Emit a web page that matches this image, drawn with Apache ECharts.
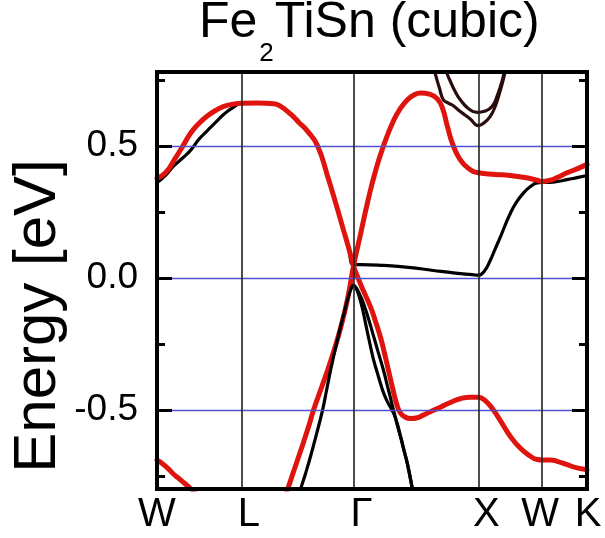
<!DOCTYPE html>
<html>
<head>
<meta charset="utf-8">
<script src="https://cdn.jsdelivr.net/npm/echarts@6/dist/echarts.min.js"></script>
<style>
html,body{margin:0;padding:0;background:#fff;}
#chart{width:605px;height:538px;}
</style>
</head>
<body>
<div id="chart"></div>
<script>
// High-symmetry points along the k-path (k-distance units)
const kPoints = [0, 85, 197, 322, 386, 431];
const kLabels = ['W', 'L', 'Γ', 'X', 'W', 'K'];
const yMajorTicks = [-0.5, 0, 0.5];
const yMinorTicks = [-0.75, -0.25, 0.25, 0.75];
const refLines = [-0.5, 0, 0.5];

// Bands: [k, energy (eV)]
const redA = [[0,0.377],[9,0.40],[17,0.445],[26,0.50],[34,0.55],[42,0.585],[51,0.615],[59,0.635],[67,0.65],[76,0.658],
  [85,0.662],[101,0.663],[117,0.66],[124,0.65],[134,0.62],[142,0.59],[151,0.555],[161,0.5],
  [171,0.385],[179,0.285],[187,0.18],[192,0.115],[197,0.045],[202,-0.005],[207,-0.05],[214,-0.11],[219,-0.165],[224,-0.225],
  [228,-0.285],[232,-0.35],[236,-0.415],[240,-0.475],[244,-0.512],[249,-0.528],[254,-0.533],[261,-0.53],[267,-0.52],[274,-0.507],
  [284,-0.49],[294,-0.472],[304,-0.458],[314,-0.452],[322,-0.452],[329,-0.465],[337,-0.5],[344,-0.54],[354,-0.6],[364,-0.645],
  [374,-0.675],[381,-0.688],[387,-0.69],[394,-0.69],[401,-0.695],[411,-0.708],[421,-0.72],[431,-0.727]];
const redB = [[127,-0.84],[131,-0.8],[137,-0.733],[144,-0.655],[151,-0.575],[157,-0.5],[164,-0.425],[171,-0.35],[177,-0.28],
  [184,-0.19],[191,-0.08],[197,0.045],[204,0.165],[211,0.285],[219,0.405],[227,0.5],[237,0.595],[244,0.642],
  [251,0.675],[257,0.692],[264,0.70],[274,0.695],[281,0.678],[286,0.645],[291,0.575],[297,0.5],[304,0.447],[312,0.415],
  [322,0.398],[339,0.392],[354,0.388],[369,0.38],[381,0.37],[386,0.365],[394,0.37],[401,0.38],[411,0.398],[421,0.413],[431,0.43]];
const redC = [[0,-0.69],[9,-0.715],[17,-0.745],[25,-0.77],[34,-0.8],[44,-0.84]];
const blackA = [[0,0.36],[9,0.39],[17,0.425],[26,0.455],[34,0.485],[42,0.525],[51,0.56],[59,0.59],[67,0.62],[76,0.645],
  [85,0.662],[101,0.663],[117,0.66],[124,0.65],[134,0.62],[142,0.59],[151,0.555],[161,0.5],
  [171,0.385],[179,0.285],[187,0.18],[192,0.115],[197,0.05],[204,0.05],[227,0.047],[252,0.04],[277,0.028],[299,0.018],
  [316,0.012],[322,0.01],[328,0.025],[334,0.066],[339,0.11],[344,0.153],[349,0.2],[354,0.243],[360,0.285],[367,0.32],
  [374,0.345],[381,0.36],[386,0.362],[394,0.362],[401,0.365],[411,0.372],[421,0.38],[431,0.388]];
const blackV1 = [[138,-0.88],[144,-0.8],[149,-0.74],[154,-0.675],[160,-0.59],[166,-0.5],[170,-0.425],[174,-0.35],[179,-0.265],
  [184,-0.185],[188,-0.125],[192,-0.07],[195,-0.038],[197,-0.028],[199,-0.035],[201,-0.052],[204,-0.088],[207,-0.135],
  [210,-0.19],[214,-0.26],[217,-0.31],[221,-0.362],[224,-0.4],[227,-0.435],[231,-0.47],[234,-0.49],[239,-0.53],[244,-0.6],
  [248,-0.66],[251,-0.705],[256,-0.8],[259,-0.86]];
const blackV2 = [[197,-0.028],[200,-0.04],[204,-0.07],[207,-0.097],[212,-0.155],[217,-0.22],[222,-0.285],[227,-0.35],
  [231,-0.41],[234,-0.455],[237,-0.5],[241,-0.56],[244,-0.6],[248,-0.66],[251,-0.705],[256,-0.8],[259,-0.86]];
const blackC1 = [[276,0.81],[279,0.772],[283,0.72],[287,0.675],[292,0.662],[297,0.652],[304,0.63],[314,0.602],[322,0.577],
  [328,0.588],[334,0.612],[339,0.65],[344,0.709],[347,0.75],[350,0.8]];
const blackC2 = [[287,0.83],[291,0.772],[294,0.745],[299,0.705],[304,0.675],[312,0.642],[321,0.627],[329,0.632],[336,0.65],
  [341,0.69],[346,0.747],[349,0.8]];

const FONT = '"Liberation Sans", Arial, sans-serif';
const KMIN = 0, KMAX = 431;
const YMIN = -0.8, YMAX = 0.78;

const ctx = document.createElement('canvas').getContext('2d');
function tw(t, size) { ctx.font = size + 'px ' + FONT; return ctx.measureText(t).width; }

const RED = '#e0140e', BLK = '#000000', DARK = '#2a0c0c';
function band(data, color, width) {
  return { type: 'line', data: data, showSymbol: false, symbol: 'none', smooth: 0.5,
    lineStyle: { color: color, width: width, cap: 'round', join: 'round' }, xAxisIndex: 0, yAxisIndex: 0, silent: true, clip: true };
}

const labelOffsets = [0, 7, 8, 8, -2, 1];
const rich = {};
kLabels.forEach((l, i) => {
  const o = labelOffsets[i];
  rich['p' + i] = { fontSize: 40, fontFamily: FONT, color: '#000',
    padding: [0, o < 0 ? -2 * o : 0, 0, o > 0 ? 2 * o : 0] };
});

const titleSize = 50, subSize = 26;
const tx0 = 199;
const feW = tw('Fe', titleSize);
const subW = tw('2', subSize);

const chart = echarts.init(document.getElementById('chart'), null, { renderer: 'canvas' });
const yBase = { type: 'value', min: YMIN, max: YMAX, splitLine: { show: false }, z: 10 };
chart.setOption({
  animation: false,
  backgroundColor: '#fff',
  grid: { left: 157, right: 18, top: 72, bottom: 49, containLabel: false },
  xAxis: [
    { type: 'value', min: KMIN, max: KMAX, position: 'bottom', z: 10,
      axisLine: { show: true, onZero: false, lineStyle: { color: '#000', width: 4 } },
      axisTick: { show: false }, splitLine: { show: false },
      axisLabel: { show: true, customValues: kPoints, margin: 6, fontSize: 40, fontFamily: FONT, color: '#000',
        formatter: function (v) { const i = kPoints.indexOf(v); return i < 0 ? '' : '{p' + i + '|' + kLabels[i] + '}'; },
        rich: rich } },
    { type: 'value', min: KMIN, max: KMAX, position: 'top', z: 10,
      axisLine: { show: true, onZero: false, lineStyle: { color: '#000', width: 4 } },
      axisTick: { show: false }, splitLine: { show: false }, axisLabel: { show: false } }
  ],
  yAxis: [
    Object.assign({}, yBase, { position: 'left',
      axisLine: { show: true, onZero: false, lineStyle: { color: '#000', width: 4 } },
      axisTick: { show: true, inside: true, length: 15, customValues: yMajorTicks, lineStyle: { color: '#000', width: 3 } },
      axisLabel: { show: true, customValues: yMajorTicks, margin: 19, fontSize: 37, fontFamily: FONT, color: '#000',
        formatter: v => v.toFixed(1) } }),
    Object.assign({}, yBase, { position: 'left',
      axisLine: { show: false, onZero: false },
      axisTick: { show: true, inside: true, length: 8, customValues: yMinorTicks, lineStyle: { color: '#000', width: 3 } },
      axisLabel: { show: false } }),
    Object.assign({}, yBase, { position: 'right',
      axisLine: { show: true, onZero: false, lineStyle: { color: '#000', width: 4 } },
      axisTick: { show: true, inside: true, length: 15, customValues: yMajorTicks, lineStyle: { color: '#000', width: 3 } },
      axisLabel: { show: false } }),
    Object.assign({}, yBase, { position: 'right',
      axisLine: { show: false, onZero: false },
      axisTick: { show: true, inside: true, length: 8, customValues: yMinorTicks, lineStyle: { color: '#000', width: 3 } },
      axisLabel: { show: false } })
  ],
  series: [
    { type: 'line', data: [], silent: true, z: 1,
      markLine: { silent: true, symbol: 'none', label: { show: false },
        data: refLines.map(v => ({ yAxis: v, lineStyle: { color: '#5050d0', width: 1.3, type: 'solid' } }))
          .concat(kPoints.slice(1, 5).map(v => ({ xAxis: v, lineStyle: { color: '#222', width: 1.6, type: 'solid' } }))) } },
    band(blackA, BLK, 3.2),
    band(redC, RED, 5),
    band(redA, RED, 5),
    band(redB, RED, 5),
    band(blackV1, BLK, 3.2),
    band(blackV2, BLK, 3.2),
    band(blackC1, DARK, 3.2),
    band(blackC2, DARK, 3.2)
  ]
});

// Frame and text overlays, positioned from the chart's own coordinate system
const tl = chart.convertToPixel({ gridIndex: 0 }, [KMIN, YMAX]);
const br = chart.convertToPixel({ gridIndex: 0 }, [KMAX, YMIN]);
const graphics = [
  { type: 'rect', z: 30, silent: true,
    shape: { x: tl[0], y: tl[1], width: br[0] - tl[0], height: br[1] - tl[1] },
    style: { fill: 'none', stroke: '#000', lineWidth: 4 } },
  { type: 'text', left: tx0, top: 45 - titleSize * 0.93, z: 20,
    style: { text: 'Fe', font: titleSize + 'px ' + FONT, fill: '#000' } },
  { type: 'text', left: tx0 + feW + 2, top: 65 - subSize * 0.93, z: 20,
    style: { text: '2', font: subSize + 'px ' + FONT, fill: '#000' } },
  { type: 'text', left: tx0 + feW + subW + 3, top: 45 - titleSize * 0.93, z: 20,
    style: { text: 'TiSn (cubic)', font: titleSize + 'px ' + FONT, fill: '#000' } },
  { type: 'text', x: 38, y: 316, rotation: Math.PI / 2, z: 20,
    style: { text: 'Energy [eV]', font: '60px ' + FONT, fill: '#000', textAlign: 'center', textVerticalAlign: 'middle' } }
];
chart.setOption({ graphic: graphics });
</script>
</body>
</html>
